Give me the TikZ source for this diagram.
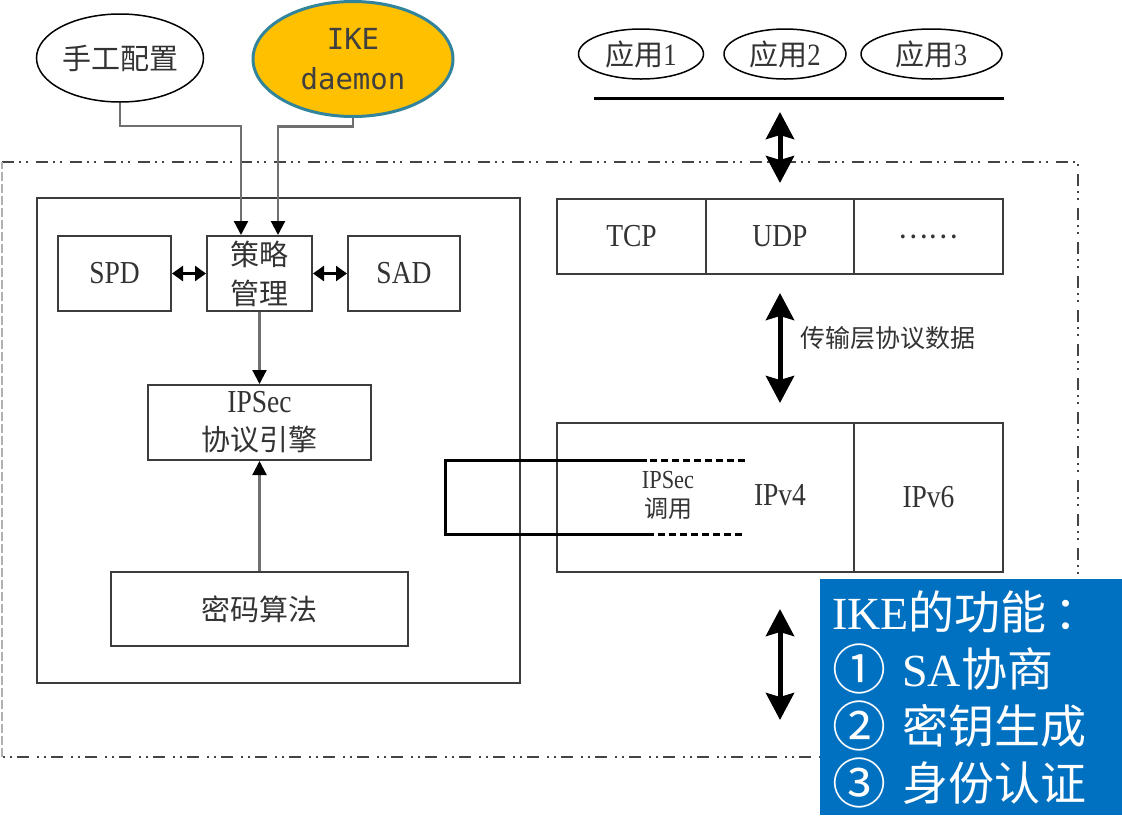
\documentclass[tikz,border=0pt]{standalone}
\usepackage{fontspec}
\setmainfont{Liberation Serif}
\newfontfamily\cjk{Noto Sans CJK SC}
\newfontfamily\lat[FakeStretch=0.86]{Liberation Serif}
\newfontfamily\dmono{DejaVu Sans Mono}
\newfontfamily\tms{Liberation Serif}
\usetikzlibrary{arrows.meta,shapes.geometric}
\definecolor{txt}{HTML}{333333}
\definecolor{edgec}{HTML}{3C3C3C}
\definecolor{connc}{HTML}{707070}
\definecolor{ikefill}{HTML}{FFC000}
\definecolor{ikeedge}{HTML}{31849B}
\definecolor{ikatxt}{HTML}{404040}
\definecolor{panelblue}{HTML}{0070C0}
\definecolor{framec}{HTML}{444444}
\definecolor{framel}{HTML}{B0B0B0}
\newcommand\fsz[2]{\fontsize{#1}{#2}\selectfont}
\newcommand\circnum[1]{\raisebox{-3pt}{\fsz{54}{57}#1}}
\begin{document}
\begin{tikzpicture}[x=1pt,y=-1pt,
  box/.style={draw=edgec, line width=2pt, rectangle, inner sep=0pt, text=txt, align=center},
  oval/.style={draw=black, line width=1.5pt, ellipse, inner sep=0pt, text=txt, align=center},
  connline/.style={draw=connc, line width=2.2pt, -{Triangle[length=14pt,width=14pt,color=black]}},
  dblarrow/.style={draw=black, line width=2.5pt, {Triangle[length=11pt,width=15pt]}-{Triangle[length=11pt,width=15pt]}},
  bigarrow/.style={draw=black, line width=5pt, {Stealth[length=27pt,width=28pt,inset=4pt]}-{Stealth[length=27pt,width=28pt,inset=4pt]}},
  framestyle/.style={draw=framec, line width=2pt, dash pattern=on 12pt off 5pt on 2pt off 5pt on 2pt off 8pt},
  frameleft/.style={draw=framel, line width=2pt, dash pattern=on 9pt off 3pt},
  brk/.style={draw=black, line width=3pt},
  brkdash/.style={draw=black, line width=3pt, dash pattern=on 7pt off 4pt},
  lbl/.style={inner sep=0pt, text=txt, align=center}
]
\path[use as bounding box, fill=white] (0,0) rectangle (1122,815);

% outer dash-dot frame
\coordinate (fTL) at (2,162);
\coordinate (fTR) at (1078,162);
\coordinate (fBR) at (1078,757);
\coordinate (fBL) at (2,757);
\draw[framestyle] (fTL) -- (fTR) -- (fBR) -- (fBL);
\draw[frameleft] (fBL) -- (fTL);

% top ellipses
\node[oval, minimum width=167pt, minimum height=88pt, font={\cjk\fsz{29}{35}}] (manual) at (120,58) {手工配置};
\node[oval, draw=ikeedge, fill=ikefill, line width=3pt, minimum width=200pt, minimum height=115pt, text=ikatxt, font={\dmono\fsz{29}{40}}] (ike) at (353,59) {IKE\\daemon};

% inner left box
\node[box, minimum width=483pt, minimum height=485pt] (core) at (278.5,440.5) {};

\node[box, minimum width=113pt, minimum height=75pt, font={\lat\fsz{32}{38}}] (spd) at (114.5,273.5) {SPD};
\node[box, minimum width=105pt, minimum height=75pt, font={\cjk\fsz{29}{39}}] (pm) at (259.5,273.5) {策略\\管理};
\node[box, minimum width=112pt, minimum height=75pt, font={\lat\fsz{32}{38}}] (sad) at (404,273.5) {SAD};
\node[box, minimum width=223pt, minimum height=75pt, font={\cjk\fsz{29}{38}}] (eng) at (259.5,422.5) {{\lat\fsz{32}{38}IPSec}\\协议引擎};
\node[box, minimum width=297pt, minimum height=74pt, font={\cjk\fsz{29}{38}}] (crypto) at (259.5,609) {密码算法};

% connectors on the left
\draw[connline] (manual.south) -- ++(0,23) -| ([xshift=-18.5pt]pm.north);
\draw[connline] (ike.south) -- ++(0,8.5) -| ([xshift=18.5pt]pm.north);
\draw[dblarrow] (spd.east) -- (pm.west);
\draw[dblarrow] (pm.east) -- (sad.west);
\draw[connline] (pm.south) -- (eng.north);
\draw[connline] (crypto.north) -- (eng.south);

% application layer
\node[oval, minimum width=125pt, minimum height=50pt, font={\cjk\fsz{29}{35}}] (app1) at (641,54) {应用{\lat\fsz{31}{35}1}};
\node[oval, minimum width=122pt, minimum height=50pt, font={\cjk\fsz{29}{35}}] (app2) at (785,54) {应用{\lat\fsz{31}{35}2}};
\node[oval, minimum width=141pt, minimum height=50pt, font={\cjk\fsz{29}{35}}] (app3) at (931.5,54) {应用{\lat\fsz{31}{35}3}};
\coordinate (appL) at (594,98);
\coordinate (appR) at (1004,98);
\draw[draw=black, line width=3pt] (appL) -- (appR);

% transport layer
\node[box, line width=2.5pt, minimum width=149pt, minimum height=75pt, font={\lat\fsz{32}{38}}] (tcp) at (631.5,236.5) {TCP};
\node[box, line width=2.5pt, minimum width=148pt, minimum height=75pt, font={\lat\fsz{32}{38}}] (udp) at (780,236.5) {UDP};
\node[box, line width=2.5pt, minimum width=149pt, minimum height=75pt, font={\cjk\fsz{28}{38}}] (etc) at (928.5,236.5) {……};

% network layer
\node[box, line width=2.5pt, minimum width=297pt, minimum height=149pt] (ipv4) at (705.5,497.5) {};
\node[box, line width=2.5pt, minimum width=149pt, minimum height=149pt, font={\lat\fsz{32}{38}}] (ipv6) at (928.5,497.5) {IPv6};
\node[lbl, font={\lat\fsz{32}{38}}] (ipv4txt) at (780,495) {IPv4};
\node[lbl, font={\cjk\fsz{24}{29}}] (ipseccall) at (668,495) {{\lat\fsz{26}{29}IPSec}\\调用};

% big double arrows
\coordinate (a1t) at (780,112);
\coordinate (a1b) at (780,183);
\coordinate (a2t) at (780,293);
\coordinate (a2b) at (780,403);
\coordinate (a3t) at (780,609);
\coordinate (a3b) at (780,720);
\draw[bigarrow] (a1t) -- (a1b);
\draw[bigarrow] (a2t) -- (a2b);
\draw[bigarrow] (a3t) -- (a3b);
\node[lbl, anchor=west, font={\cjk\fsz{25}{30}}] (tlabel) at (800,338) {传输层协议数据};

% IPSec call bracket
\coordinate (bA) at (745,460);
\coordinate (bB) at (647,460);
\coordinate (bC) at (445,460);
\coordinate (bD) at (445,534);
\coordinate (bE) at (647,534);
\coordinate (bF) at (745,534);
\draw[brk] (bB) -- (bC) -- (bD) -- (bE);
\draw[brkdash] (bA) -- (bB);
\draw[brkdash] (bE) -- (bF);

% blue panel
\node[rectangle, fill=panelblue, inner sep=0pt, minimum width=302pt, minimum height=236pt, anchor=north west] (panel) at (820,579) {};
\node[anchor=north west, inner sep=0pt, align=left, text=white, font={\cjk\fsz{46}{57}}] (ikefun) at (832,590)
  {{\tms IKE}的功能\hspace{8pt}：\\\circnum{①}\hspace{16pt}{\tms SA}协商\\\circnum{②}\hspace{16pt}密钥生成\\\circnum{③}\hspace{16pt}身份认证};
\end{tikzpicture}
\end{document}
